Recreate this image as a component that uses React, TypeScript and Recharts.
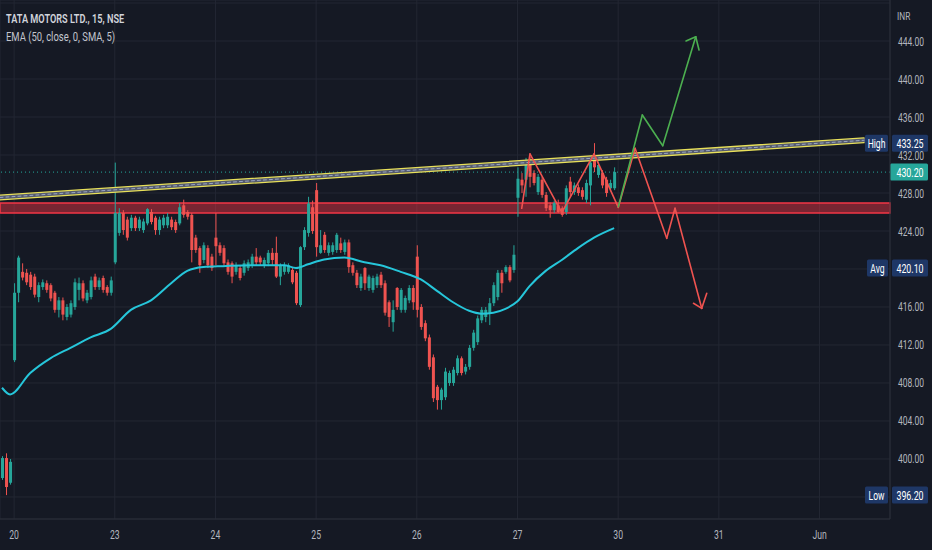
import React from "react";
import {
  ComposedChart,
  Bar,
  Line,
  XAxis,
  YAxis,
  CartesianGrid,
  ReferenceLine,
  ReferenceArea,
} from "recharts";

const BG = "#151924";
const GRID = "#232733";
const AXIS_LINE = "#2a2e39";
const AXIS_TEXT = "#b2b5be";
const UP = "#26a69a";
const DOWN = "#ef5350";
const EMA = "#26c6da";
const BADGE = "#1e3766";
const FONT = "Roboto, 'Liberation Sans', sans-serif";

// 15 min bars, [open, high, low, close], one array per session
const day19 = [
  [398.0, 400.3, 397.8, 400.1],
  [400.1, 400.6, 396.2, 397.05],
  [397.5, 400.0, 397.3, 399.7],
];

const day20 = [
  [410.4, 418.5, 410.2, 417.5],
  [417.5, 421.4, 416.5, 421.2],
  [419.7, 420.6, 418.8, 419.1],
  [419.6, 420.0, 418.3, 418.6],
  [419.4, 419.7, 417.8, 418.1],
  [419.2, 419.5, 417.0, 417.3],
  [417.05, 418.6, 416.5, 418.3],
  [418.1, 418.9, 417.8, 418.6],
  [418.5, 418.8, 417.5, 417.8],
  [418.3, 418.5, 416.6, 416.9],
  [417.5, 417.7, 415.4, 415.7],
  [415.7, 417.05, 414.9, 416.7],
  [416.7, 417.0, 414.6, 415.2],
  [414.95, 416.3, 414.6, 416.0],
  [415.2, 416.7, 414.9, 416.4],
  [416.0, 419.0, 415.7, 418.6],
  [417.8, 419.1, 416.7, 418.5],
  [418.5, 418.8, 416.6, 416.9],
  [416.7, 417.8, 416.4, 417.5],
  [417.05, 419.2, 416.8, 418.8],
  [419.2, 419.5, 417.8, 418.1],
  [418.1, 419.1, 417.8, 418.8],
  [419.05, 419.3, 417.5, 417.8],
  [418.1, 418.3, 417.2, 417.5],
  [417.5, 419.2, 417.2, 418.8],
];

const day23 = [
  [420.7, 431.2, 420.5, 425.9],
  [423.8, 426.4, 423.5, 425.9],
  [425.9, 426.2, 423.6, 424.1],
  [425.2, 425.5, 423.0, 423.3],
  [424.3, 425.7, 424.0, 425.4],
  [425.4, 425.6, 424.0, 424.3],
  [424.3, 425.5, 424.0, 425.2],
  [424.1, 425.3, 423.8, 425.0],
  [424.8, 426.4, 424.6, 426.3],
  [426.0, 426.3, 424.7, 424.95],
  [425.4, 425.6, 423.6, 424.1],
  [424.1, 425.5, 423.6, 425.2],
  [424.6, 425.7, 424.3, 425.4],
  [424.6, 425.9, 424.3, 425.5],
  [425.2, 425.5, 424.1, 424.4],
  [424.95, 425.2, 423.8, 424.1],
  [424.8, 426.95, 424.6, 426.5],
  [426.7, 427.3, 425.4, 425.7],
  [426.0, 426.2, 425.2, 425.5],
  [425.7, 425.9, 420.7, 422.0],
  [423.3, 423.6, 421.7, 422.0],
  [422.2, 422.4, 419.6, 420.4],
  [420.95, 422.8, 420.6, 422.5],
  [422.2, 422.5, 420.1, 420.4],
  [421.3, 421.6, 419.8, 420.1],
];

const day24 = [
  [423.3, 425.9, 420.4, 422.4],
  [422.5, 422.8, 421.4, 421.7],
  [422.2, 422.5, 420.3, 420.6],
  [420.7, 421.0, 419.4, 419.7],
  [420.6, 420.8, 418.5, 419.2],
  [419.7, 420.7, 419.4, 420.4],
  [420.1, 420.4, 418.8, 419.05],
  [419.6, 420.9, 419.3, 420.6],
  [420.1, 421.0, 419.8, 420.7],
  [420.4, 421.6, 420.1, 421.3],
  [421.3, 422.2, 420.4, 420.7],
  [421.2, 421.4, 420.4, 420.7],
  [420.4, 421.2, 420.1, 420.95],
  [420.6, 422.0, 420.3, 421.7],
  [421.7, 422.2, 420.4, 420.95],
  [421.7, 423.4, 419.05, 419.2],
  [419.2, 420.6, 418.3, 420.4],
  [419.7, 420.7, 419.4, 420.4],
  [419.7, 420.6, 419.5, 420.4],
  [419.9, 420.1, 418.4, 418.6],
  [419.6, 419.8, 416.2, 416.4],
  [416.2, 422.4, 416.0, 422.3],
  [422.3, 424.4, 422.0, 424.1],
  [423.8, 427.6, 423.4, 426.9],
  [426.5, 427.2, 423.7, 424.0],
];

const day25 = [
  [428.3, 429.05, 421.3, 422.3],
  [421.7, 424.1, 421.6, 422.5],
  [423.6, 423.9, 421.7, 422.0],
  [421.7, 422.8, 421.4, 422.5],
  [421.8, 422.8, 421.5, 422.5],
  [422.0, 423.8, 421.7, 423.6],
  [422.7, 423.3, 421.7, 422.0],
  [421.8, 423.1, 421.5, 422.8],
  [422.8, 423.1, 419.6, 420.2],
  [420.4, 420.7, 419.3, 419.6],
  [419.6, 419.9, 418.0, 418.3],
  [418.0, 419.5, 417.7, 419.2],
  [420.1, 420.2, 417.8, 418.5],
  [418.0, 419.4, 417.7, 419.2],
  [417.8, 419.3, 417.5, 419.05],
  [418.3, 419.5, 418.0, 419.2],
  [419.4, 419.7, 418.0, 418.3],
  [418.5, 418.8, 415.1, 415.4],
  [416.5, 416.7, 413.9, 414.95],
  [414.4, 416.7, 413.4, 415.7],
  [418.0, 418.1, 415.7, 416.0],
  [415.7, 418.0, 415.4, 417.8],
  [415.7, 417.2, 415.4, 416.95],
  [416.7, 418.3, 416.4, 418.0],
  [418.0, 418.3, 415.7, 416.5],
];

const day26 = [
  [421.3, 422.5, 414.9, 415.7],
  [416.0, 416.3, 413.6, 413.9],
  [414.3, 414.6, 412.4, 412.7],
  [412.8, 413.1, 409.4, 409.7],
  [410.7, 411.0, 406.0, 406.4],
  [407.6, 407.8, 405.2, 406.2],
  [406.2, 407.5, 405.2, 407.3],
  [406.5, 409.6, 406.2, 409.2],
  [408.0, 409.3, 407.7, 409.05],
  [408.0, 409.7, 407.7, 409.4],
  [409.05, 410.9, 408.8, 410.6],
  [410.6, 410.8, 408.8, 409.05],
  [409.2, 410.0, 408.9, 409.7],
  [409.7, 412.0, 409.4, 411.7],
  [411.7, 413.6, 411.4, 413.3],
  [412.3, 415.1, 412.0, 414.8],
  [414.6, 416.0, 414.3, 415.7],
  [414.95, 416.0, 414.4, 415.7],
  [415.4, 416.95, 414.1, 416.4],
  [416.4, 418.6, 416.1, 418.3],
  [417.05, 419.9, 416.7, 419.6],
  [419.6, 419.9, 417.5, 418.5],
  [419.7, 420.4, 419.5, 420.2],
  [420.2, 420.4, 418.6, 418.8],
  [419.9, 422.5, 419.6, 421.5],
];

const day27 = [
  [427.5, 430.7, 425.5, 429.5],
  [429.4, 430.1, 428.0, 428.8],
  [429.4, 431.7, 427.6, 431.3],
  [431.3, 431.8, 428.6, 429.7],
  [430.1, 430.4, 428.8, 429.05],
  [428.1, 430.0, 427.8, 429.7],
  [429.4, 429.7, 427.5, 427.8],
  [427.8, 428.1, 426.1, 426.4],
  [426.7, 427.0, 425.4, 426.2],
  [426.2, 427.2, 425.9, 426.95],
  [426.7, 427.3, 425.9, 426.0],
  [426.4, 426.6, 425.5, 425.7],
  [426.0, 428.8, 425.7, 428.5],
  [429.2, 429.7, 427.6, 428.1],
  [428.1, 429.1, 427.8, 428.8],
  [428.6, 428.9, 427.7, 428.0],
  [428.3, 428.6, 427.3, 427.6],
  [427.3, 429.4, 426.95, 429.05],
  [428.8, 431.5, 426.7, 431.2],
  [432.0, 433.25, 430.2, 430.7],
  [429.9, 431.3, 429.6, 430.95],
  [430.1, 430.4, 428.5, 428.8],
  [429.4, 429.7, 427.6, 428.0],
  [428.5, 429.4, 428.2, 429.05],
  [428.5, 430.7, 428.3, 430.2],
];

const sessions = [day19, day20, day23, day24, day25, day26, day27];

// EMA(50) at some bars, [bar index, value]
const emaPoints = [
  [0, 407.5], [2, 406.8], [7, 409.05], [12, 410.6], [17, 411.7],
  [22, 412.8], [27, 413.7], [32, 415.7], [37, 416.7], [42, 418.5],
  [46, 419.8], [50, 420.2], [55, 420.3], [62, 420.4], [70, 420.4],
  [73, 420.1], [76, 420.5], [80, 421.0], [85, 421.2], [90, 420.7],
  [94, 420.4], [99, 419.7], [104, 418.9], [108, 417.7], [112, 416.5],
  [116, 415.6], [119, 415.3], [122, 415.4], [125, 415.8], [128, 416.6],
  [131, 418.2], [135, 419.8], [139, 420.95], [143, 422.2], [147, 423.3],
  [152, 424.3],
];

// first bar of each session, and its label (30, 31, Jun are future days)
const dayTicks = [3, 28, 53, 78, 103, 128, 153, 178, 203];
const dayLabels = ["20", "23", "24", "25", "26", "27", "30", "31", "Jun"];

const priceTicks = [396, 400, 404, 408, 412, 416, 420, 424, 428, 432, 436, 440, 444, 448];
const unlabeledTicks = [396, 420, 448];

const SLOTS = 221; // bar slots on screen, incl. empty space to the right
const Y_MIN = 393.684;
const Y_MAX = 448.316;

// drawings
const channelMid = [[-0.5, 427.53], [214.05, 433.55]];
const channelHalf = 0.25;
const supportZone = [425.89, 426.95];

const redPath = [
  [129.05, 426.39], [131.1, 432.11], [139.0, 425.93], [147.0, 432.11],
  [153.04, 426.49], [157.2, 432.71], [165.06, 423.23], [167.12, 426.39],
  [173.75, 415.86],
];
const redHead = [[171.7, 416.39], [175.0, 417.44]];

const greenPath = [
  [153.04, 426.56], [159.0, 436.21], [164.07, 432.98], [172.26, 444.45],
];
const greenHead = [[169.85, 444.0], [173.08, 443.05]];

const levelNames = ["High", "Avg", "Low"];
const levelValues = [433.25, 420.1, 396.2];

const bars = sessions.flat();
const lastClose = bars[bars.length - 1][3];
const emaByIdx = new Map(emaPoints.map(([i, v]) => [i, v]));

const rows = Array.from({ length: SLOTS }, (_, i) => {
  const b = bars[i];
  return {
    i,
    o: b ? b[0] : null,
    h: b ? b[1] : null,
    l: b ? b[2] : null,
    c: b ? b[3] : null,
    ema: emaByIdx.has(i) ? emaByIdx.get(i) : null,
  };
});

function Txt({ x, y, children, size = 12, weight = 400, fill = AXIS_TEXT, anchor = "start", sx = 0.72 }: any) {
  return (
    <text
      transform={`translate(${x} ${y}) scale(${sx} 1)`}
      fontSize={size}
      fontWeight={weight}
      fill={fill}
      textAnchor={anchor}
      fontFamily={FONT}
    >
      {children}
    </text>
  );
}

function Candle(props: any) {
  const { x, y, width, height, payload } = props;
  if (!payload || payload.h == null) return null;
  const { o, h, l, c } = payload;
  const top = Math.min(y, y + height);
  const span = Math.abs(height);
  const k = h === l ? 0 : span / (h - l);
  const color = c >= o ? UP : DOWN;
  const cx = x + width / 2;
  const bodyTop = top + (h - Math.max(o, c)) * k;
  const bodyH = Math.max(1, Math.abs(o - c) * k);
  return (
    <g>
      <line x1={cx} x2={cx} y1={top} y2={top + span} stroke={color} strokeWidth={1} />
      <rect x={x} y={bodyTop} width={width} height={bodyH} fill={color} />
    </g>
  );
}

function DayTick(props: any) {
  const { x, payload } = props;
  const label = dayLabels[dayTicks.indexOf(payload.value)];
  return (
    <Txt x={x} y={539} anchor="middle" size={12} sx={0.72}>
      {label}
    </Txt>
  );
}

function PriceTick(props: any) {
  const { x, y, payload } = props;
  if (unlabeledTicks.includes(payload.value)) return null;
  return (
    <Txt x={x} y={y + 4.5} size={12} sx={0.71}>
      {payload.value.toFixed(2)}
    </Txt>
  );
}

const TAG_W: Record<string, number> = { High: 23, Avg: 21, Low: 23 };

function LevelBadge({ viewBox, tag, value }: any) {
  if (!viewBox) return null;
  const right = viewBox.x + viewBox.width;
  const cy = viewBox.y;
  if (!tag) {
    return (
      <g>
        <rect x={right} y={cy - 8.5} width={38} height={17} fill={UP} rx={1.5} />
        <Txt x={right + 20} y={cy + 4.6} anchor="middle" fill="#ffffff" size={13} sx={0.68}>
          {value.toFixed(2)}
        </Txt>
      </g>
    );
  }
  const tw = TAG_W[tag];
  return (
    <g>
      <rect x={right - tw - 2} y={cy - 8.5} width={tw} height={17} fill={BADGE} rx={1.5} />
      <Txt x={right - 2 - tw / 2} y={cy + 4.6} anchor="middle" fill="#ffffff" size={13} sx={0.66}>
        {tag}
      </Txt>
      <rect x={right + 2} y={cy - 8.5} width={36} height={17} fill={BADGE} rx={1.5} />
      <Txt x={right + 20} y={cy + 4.6} anchor="middle" fill="#ffffff" size={13} sx={0.68}>
        {value.toFixed(2)}
      </Txt>
    </g>
  );
}

function segments(pts: number[][], color: string, key: string, width = 1.6, dash?: string) {
  return pts.slice(1).map((p, j) => (
    <ReferenceLine
      key={`${key}-${j}`}
      xAxisId="num"
      segment={[
        { x: pts[j][0], y: pts[j][1] },
        { x: p[0], y: p[1] },
      ]}
      stroke={color}
      strokeWidth={width}
      strokeDasharray={dash}
      strokeLinecap="round"
      ifOverflow="visible"
    />
  ));
}

function arrowHead(tip: number[], wings: number[][], color: string, key: string) {
  return wings.map((w, j) => (
    <ReferenceLine
      key={`${key}-${j}`}
      xAxisId="num"
      segment={[
        { x: tip[0], y: tip[1] },
        { x: w[0], y: w[1] },
      ]}
      stroke={color}
      strokeWidth={1.6}
      strokeLinecap="round"
      ifOverflow="visible"
    />
  ));
}

const shift = (pts: number[][], d: number) => pts.map(([x, y]) => [x, y + d]);

export default function App() {
  return (
    <div style={{ position: "relative", width: 932, height: 550, background: BG }}>
      <style>{`body{margin:0;background:${BG}}`}</style>
      <ComposedChart width={932} height={550} data={rows} margin={{ top: 0, right: 0, bottom: 0, left: 0 }}>
        <CartesianGrid stroke={GRID} />
        <XAxis
          dataKey="i"
          type="category"
          ticks={dayTicks}
          interval={0}
          tick={<DayTick />}
          tickLine={false}
          axisLine={{ stroke: AXIS_LINE }}
          height={31}
        />
        <XAxis xAxisId="num" dataKey="i" type="number" domain={[-0.5, SLOTS - 0.5]} allowDataOverflow hide />
        <YAxis
          orientation="right"
          type="number"
          domain={[Y_MIN, Y_MAX]}
          ticks={priceTicks}
          allowDataOverflow
          tick={<PriceTick />}
          tickLine={false}
          tickSize={6}
          tickMargin={2}
          axisLine={{ stroke: AXIS_LINE }}
          width={42}
        />

        <ReferenceArea
          y1={supportZone[0]}
          y2={supportZone[1]}
          fill="#f23645"
          fillOpacity={0.45}
          stroke="#f23645"
          strokeWidth={1.5}
          ifOverflow="visible"
        />

        <Bar
          dataKey={(d: any) => (d.h == null ? null : [d.l, d.h])}
          shape={<Candle />}
          barSize={3}
          isAnimationActive={false}
        />

        <Line
          dataKey="ema"
          type="monotone"
          stroke={EMA}
          strokeWidth={2}
          dot={false}
          activeDot={false}
          connectNulls
          isAnimationActive={false}
        />

        <ReferenceLine y={lastClose} stroke={UP} strokeDasharray="1 3" strokeWidth={1} />

        {/* rising channel */}
        {segments(channelMid, "#555b6e", "ch-fill", 4.5)}
        {segments(shift(channelMid, channelHalf), "#e8e05a", "ch-top", 1.3)}
        {segments(shift(channelMid, -channelHalf), "#e8e05a", "ch-bot", 1.3)}
        {segments(channelMid, "#9aa6c4", "ch-mid", 1, "3 3")}

        {/* projected paths */}
        {segments(redPath, DOWN, "red")}
        {arrowHead(redPath[redPath.length - 1], redHead, DOWN, "red-head")}
        {segments(greenPath, "#4caf50", "green")}
        {arrowHead(greenPath[greenPath.length - 1], greenHead, "#4caf50", "green-head")}

        {/* price scale badges */}
        <ReferenceLine y={lastClose} stroke="none" ifOverflow="visible" label={<LevelBadge value={lastClose} />} />
        {levelNames.map((name, j) => (
          <ReferenceLine
            key={name}
            y={levelValues[j]}
            stroke="none"
            ifOverflow="visible"
            label={<LevelBadge tag={name} value={levelValues[j]} />}
          />
        ))}
      </ComposedChart>

      <svg width={932} height={550} style={{ position: "absolute", left: 0, top: 0, pointerEvents: "none" }}>
        <Txt x={6} y={23} size={13.5} weight={600} fill="#d1d4dc" sx={0.68}>
          TATA MOTORS LTD., 15, NSE
        </Txt>
        <Txt x={6} y={41} size={13} fill="#c3c6ce" sx={0.726}>
          EMA (50, close, 0, SMA, 5)
        </Txt>
        <Txt x={897} y={20} size={11} sx={0.75}>
          INR
        </Txt>
      </svg>
    </div>
  );
}
